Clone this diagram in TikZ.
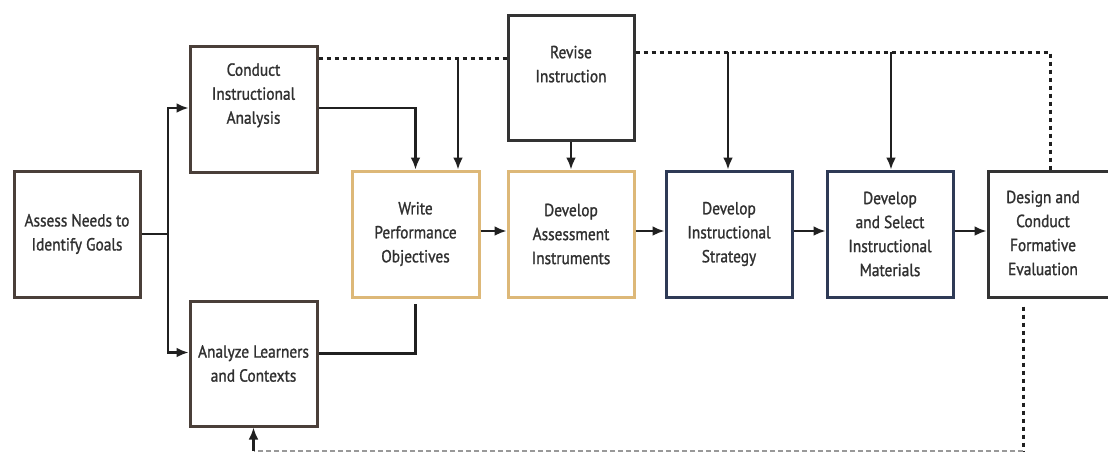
\documentclass[tikz,border=0pt]{standalone}
\usepackage{fontspec}
\setmainfont{PT Sans}[FakeStretch=0.88,FakeBold=1.2]
\usetikzlibrary{arrows.meta}
\definecolor{brownbox}{HTML}{4A3F39}
\definecolor{tanbox}{HTML}{DDB878}
\definecolor{navybox}{HTML}{2E3A56}
\definecolor{greybox}{HTML}{333333}
\definecolor{txt}{HTML}{303030}
\definecolor{linec}{HTML}{202020}
\tikzset{
  stagebox/.style={draw, line width=3pt, minimum width=126pt, minimum height=126pt,
    inner sep=0pt, align=center, text=txt, font=\fontsize{17.5}{24}\selectfont},
  flow/.style={draw=linec, line width=2.8pt, -{Latex[length=12pt,width=10pt]}},
  plainline/.style={draw=linec, line width=2.8pt},
  fbdots/.style={draw=linec, line width=3pt, dash pattern=on 4pt off 4pt},
  fbthin/.style={draw=black!40, line width=1.5pt, dash pattern=on 5pt off 3pt}
}
\begin{document}
\begin{tikzpicture}[x=1pt,y=-1pt]
\useasboundingbox (0,0) rectangle (1108,453);
\fill[white] (0,0) rectangle (1108,453);

\node[stagebox, draw=brownbox] (assess) at (77,234) {Assess Needs to\\Identify Goals};
\node[stagebox, draw=brownbox, minimum width=127pt] (conduct) at (253.5,109) {Conduct\\Instructional\\Analysis\\[7pt]};
\node[stagebox, draw=brownbox, minimum width=127pt, minimum height=125pt] (analyze) at (253.5,363.5) {Analyze Learners\\and Contexts};
\node[stagebox, draw=tanbox, minimum width=127pt] (write) at (415.5,234) {Write\\Performance\\Objectives};
\node[stagebox, draw=tanbox] (devassess) at (571,234) {Develop\\Assessment\\Instruments};
\node[stagebox, draw=greybox, minimum height=125pt] (revise) at (571,77.5) {Revise\\Instruction\\[3pt]};
\node[stagebox, draw=navybox] (strategy) at (729,234) {Develop\\Instructional\\Strategy};
\node[stagebox, draw=navybox] (select) at (890,234) {Develop\\and Select\\Instructional\\Materials};
\node[stagebox, draw=greybox, minimum width=124pt] (design) at (1050,234) {};
\node[align=center, text=txt, font=\fontsize{17.5}{24}\selectfont, inner sep=0pt] (designtext) at (1043,233) {Design and\\Conduct\\Formative\\Evaluation};

% branching from Assess
\coordinate (split) at (168,234);
\draw[plainline] (assess.east) -- (split);
\draw[flow] (split) |- ([yshift=1pt]conduct.west);
\draw[flow] (split) |- ([yshift=11pt]analyze.west);

% into Write
\draw[flow] ([yshift=1pt]conduct.east) -| (write.north);
\draw[plainline] ([yshift=10pt]analyze.east) -| ([yshift=-5pt]write.south);

% main chain
\draw[flow] ([yshift=3pt]write.east) -- ([yshift=3pt]devassess.west);
\draw[flow] ([yshift=3pt]devassess.east) -- ([yshift=3pt]strategy.west);
\draw[flow] ([yshift=3pt]strategy.east) -- ([yshift=3pt]select.west);
\draw[flow] ([yshift=3pt]select.east) -- ([yshift=3pt]design.west);
\draw[flow] (revise.south) -- (devassess.north);

% feedback loop, top left
\coordinate (fbA) at (458,58);
\draw[fbdots] ([yshift=51pt]conduct.east) -- ([yshift=19.5pt]revise.west);
\draw[flow] (fbA) -- (fbA |- write.north);

% feedback loop, top right
\coordinate (fbS) at (728,52);
\coordinate (fbM) at (891,52);
\coordinate (fbcorner) at (1050,52);
\draw[fbdots] ([yshift=25.5pt]revise.east) -- (fbcorner) -- (fbcorner |- design.north);
\draw[flow] (fbS) -- (fbS |- strategy.north);
\draw[flow] (fbM) -- (fbM |- select.north);

% feedback loop, bottom
\coordinate (fbB) at (1023,451);
\coordinate (fbC) at (253.5,451);
\draw[fbdots] ([xshift=-27pt,yshift=-8pt]design.south) -- (fbB);
\draw[fbthin] (fbB) -- (fbC);
\draw[flow] (fbC) -- (analyze.south);
\end{tikzpicture}
\end{document}
